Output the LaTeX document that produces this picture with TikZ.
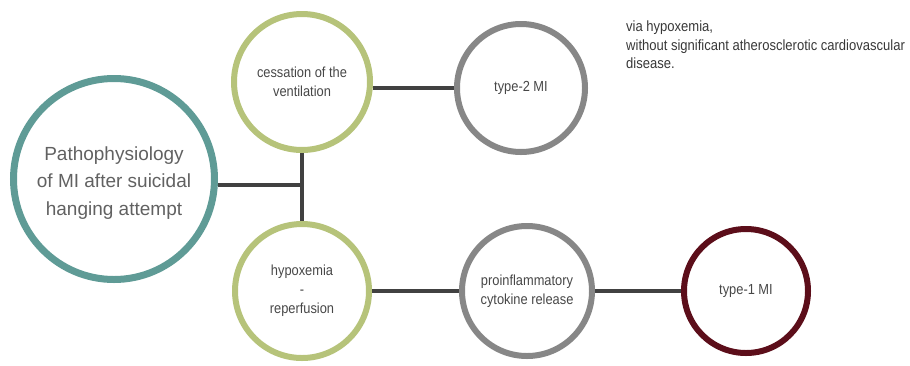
\documentclass[tikz,border=0pt]{standalone}
\usepackage{fontspec}
\setmainfont{Liberation Sans}
\newfontfamily\narrowsans[FakeStretch=0.88]{Liberation Sans}
\usepackage{tikz}
\usetikzlibrary{positioning,calc}

\definecolor{tealring}{RGB}{95,155,150}
\definecolor{olivering}{RGB}{182,195,122}
\definecolor{grayring}{RGB}{135,135,135}
\definecolor{wineRing}{RGB}{92,14,26}
\definecolor{linkgray}{RGB}{65,65,65}

\begin{document}
\begin{tikzpicture}[x=1pt, y=-1pt,
    ring/.style={draw, circle, line width=6pt, align=center, text=black!72,
                 font=\narrowsans\fontsize{14.6}{19}\selectfont},
    link/.style={draw=linkgray, line width=3.5pt}]
    \useasboundingbox (0,0) rectangle (910,365);

    % main circle on the left, its text a little below centre
    \node[ring, draw=tealring, line width=7pt, minimum size=201pt] (patho) at (114,179) {};
    \node[align=center, text=black!62, font=\rmfamily\fontsize{19}{27.5}\selectfont]
          (pathotext) at ([yshift=-4pt]patho.center)
          {Pathophysiology\\of MI after suicidal\\hanging attempt};

    \node[ring, draw=olivering, minimum size=136pt] (ventil) at (302,82)
          {cessation of the\\ventilation};
    \node[ring, draw=grayring, minimum size=128pt] (type2) at (521,88) {type-2 MI};
    \node[ring, draw=olivering, minimum size=134pt] (reperf) at (302,291)
          {hypoxemia\\-\\reperfusion};
    \node[ring, draw=grayring, minimum size=130pt] (cytok) at (527,291)
          {proinflammatory\\cytokine release};
    \node[ring, draw=wineRing, minimum size=124pt] (type1) at (746,291) {type-1 MI};

    \node[anchor=north west, align=left, inner sep=0pt, text=black!78,
          font=\narrowsans\fontsize{14.8}{18.5}\selectfont] (note) at (626,21)
          {via hypoxemia,\\without significant atherosclerotic cardiovascular\\disease.};

    \coordinate (split) at (302,185);
    \draw[link] (split -| patho.east) -- (split);
    \draw[link] (ventil) -- (reperf);
    \draw[link] (type2.west) -- (type2.west -| ventil.east);
    \draw[link] (reperf) -- (cytok);
    \draw[link] (cytok) -- (type1);
\end{tikzpicture}
\end{document}
